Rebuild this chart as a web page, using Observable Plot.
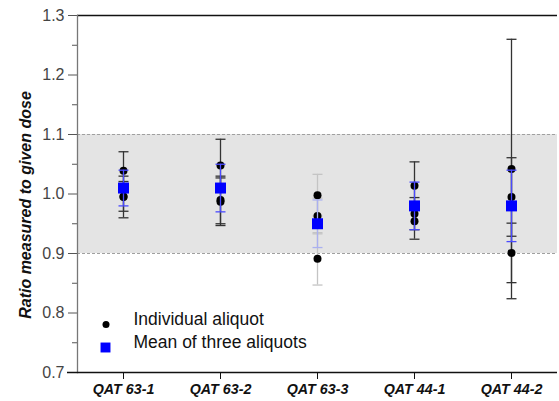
<!DOCTYPE html>
<html>
<head>
<meta charset="utf-8">
<script src="https://cdn.jsdelivr.net/npm/d3@7"></script>
<script src="https://cdn.jsdelivr.net/npm/@observablehq/plot@0.6"></script>
<style>
  html, body { margin: 0; padding: 0; background: #fff; }
  #chart svg { font-family: "Liberation Sans", Arial, sans-serif; }
</style>
</head>
<body>
<div id="chart"></div>
<script>
// ---- data ----
const samples = ["QAT 63-1", "QAT 63-2", "QAT 63-3", "QAT 44-1", "QAT 44-2"];

// individual aliquots (three per sample)
const aliquotSample = [
  "QAT 63-1", "QAT 63-1", "QAT 63-1",
  "QAT 63-2", "QAT 63-2", "QAT 63-2",
  "QAT 63-3", "QAT 63-3", "QAT 63-3",
  "QAT 44-1", "QAT 44-1", "QAT 44-1",
  "QAT 44-2", "QAT 44-2", "QAT 44-2"
];
const aliquotRatio = [
  1.039, 0.996, 0.995,
  1.048, 0.990, 0.987,
  0.998, 0.963, 0.891,
  1.014, 0.967, 0.954,
  1.042, 0.995, 0.901
];
const aliquotErr = [
  0.032, 0.025, 0.035,
  0.044, 0.040, 0.040,
  0.035, 0.030, 0.044,
  0.040, 0.027, 0.030,
  0.218, 0.066, 0.050
];

// mean of three aliquots
const meanRatio = [1.01, 1.01, 0.95, 0.98, 0.98];
const meanErr = [0.03, 0.04, 0.04, 0.04, 0.06];

// acceptance band and axis ticks
const acceptBand = [0.9, 1.1];
const yMajorTicks = [0.7, 0.8, 0.9, 1.0, 1.1, 1.2, 1.3];
const yMinorTicks = [0.75, 0.85, 0.95, 1.05, 1.15, 1.25];
const yDomain = [0.7, 1.3];

const legendLabels = ["Individual aliquot", "Mean of three aliquots"];
const yTitle = "Ratio measured to given dose";

// ---- tables ----
const aliquots = aliquotSample.map((s, i) => ({
  sample: s, ratio: aliquotRatio[i],
  lo: aliquotRatio[i] - aliquotErr[i], hi: aliquotRatio[i] + aliquotErr[i]
}));
const means = samples.map((s, i) => ({
  sample: s, ratio: meanRatio[i],
  lo: meanRatio[i] - meanErr[i], hi: meanRatio[i] + meanErr[i]
}));

// horizontal error-bar cap symbol
const capSymbol = {
  draw(ctx, size) {
    const r = Math.sqrt(size / Math.PI);
    ctx.moveTo(-r, 0);
    ctx.lineTo(r, 0);
  }
};

const faded = (d) => d.sample === "QAT 63-3";
const blackErr = (d) => faded(d) ? "#c4c4c4" : "#333";
const blueErr = (d) => faded(d) ? "#aab0f0" : "#4a4aff";

const caps = (data, stroke) => [
  Plot.dot(data, {x: "sample", y: "lo", symbol: capSymbol, r: 5, stroke, strokeWidth: 1.3}),
  Plot.dot(data, {x: "sample", y: "hi", symbol: capSymbol, r: 5, stroke, strokeWidth: 1.3})
];

const chart = Plot.plot({
  width: 559,
  height: 401,
  marginLeft: 77,
  marginRight: 2,
  marginTop: 15,
  marginBottom: 29,
  style: {fontFamily: "Liberation Sans, Arial, sans-serif", background: "#fff"},
  x: {type: "point", domain: samples, padding: 0.46},
  y: {domain: yDomain},
  marks: [
    // acceptance band
    Plot.rect([acceptBand], {y1: (d) => d[0], y2: (d) => d[1], fill: "#e4e4e4"}),
    Plot.ruleY(acceptBand, {stroke: "#a0a0a0", strokeDasharray: "3,2", strokeWidth: 1}),
    // top frame line
    Plot.ruleY([yDomain[1]], {stroke: "#111", strokeWidth: 1.3}),
    // axes
    Plot.axisY({ticks: yMajorTicks, tickSize: 9, tickPadding: 4, tickFormat: d3.format(".1f"),
      fontSize: 16, color: "#444", stroke: "#555", label: null}),
    Plot.axisY({ticks: yMinorTicks, tickSize: 5, text: null, stroke: "#555", label: null}),
    Plot.frame({anchor: "left", stroke: "#777", strokeWidth: 1.3}),
    Plot.ruleY([yDomain[0]], {stroke: "#111", strokeWidth: 1.3, insetLeft: -10}),
    Plot.axisX({tickSize: 7, tickPadding: 4, fontSize: 14.3, fontWeight: "bold", fontStyle: "italic",
      color: "#111", stroke: "#111", label: null}),
    Plot.text([yTitle], {frameAnchor: "left", dx: -52, dy: 11, rotate: -90, textAnchor: "middle",
      fontSize: 16, fontWeight: "bold", fontStyle: "italic", fill: "#111"}),
    // individual aliquot error bars
    Plot.ruleX(aliquots, {x: "sample", y1: "lo", y2: "hi", stroke: blackErr, strokeWidth: 1.3}),
    ...caps(aliquots, blackErr),
    // individual aliquots
    Plot.dot(aliquots, {x: "sample", y: "ratio", r: 4, fill: "#000", stroke: "none"}),
    // mean error bars
    Plot.ruleX(means, {x: "sample", y1: "lo", y2: "hi", stroke: blueErr, strokeWidth: 1.3}),
    ...caps(means, blueErr),
    // means
    Plot.dot(means, {x: "sample", y: "ratio", r: 6.2, symbol: "square", fill: "#0000ff", stroke: "none"}),
    // legend
    Plot.dot([legendLabels[0]], {frameAnchor: "bottom-left", dx: 28.5, dy: -48, r: 3.5, fill: "#000"}),
    Plot.dot([legendLabels[1]], {frameAnchor: "bottom-left", dx: 28, dy: -25, r: 5.6, symbol: "square", fill: "#0000ff"}),
    Plot.text([legendLabels[0]], {text: (d) => d, frameAnchor: "bottom-left", dx: 56, dy: -48,
      textAnchor: "start", fontSize: 17.5, fill: "#111"}),
    Plot.text([legendLabels[1]], {text: (d) => d, frameAnchor: "bottom-left", dx: 56, dy: -25,
      textAnchor: "start", fontSize: 17.5, fill: "#111"})
  ]
});

document.getElementById("chart").appendChild(chart);
</script>
</body>
</html>
